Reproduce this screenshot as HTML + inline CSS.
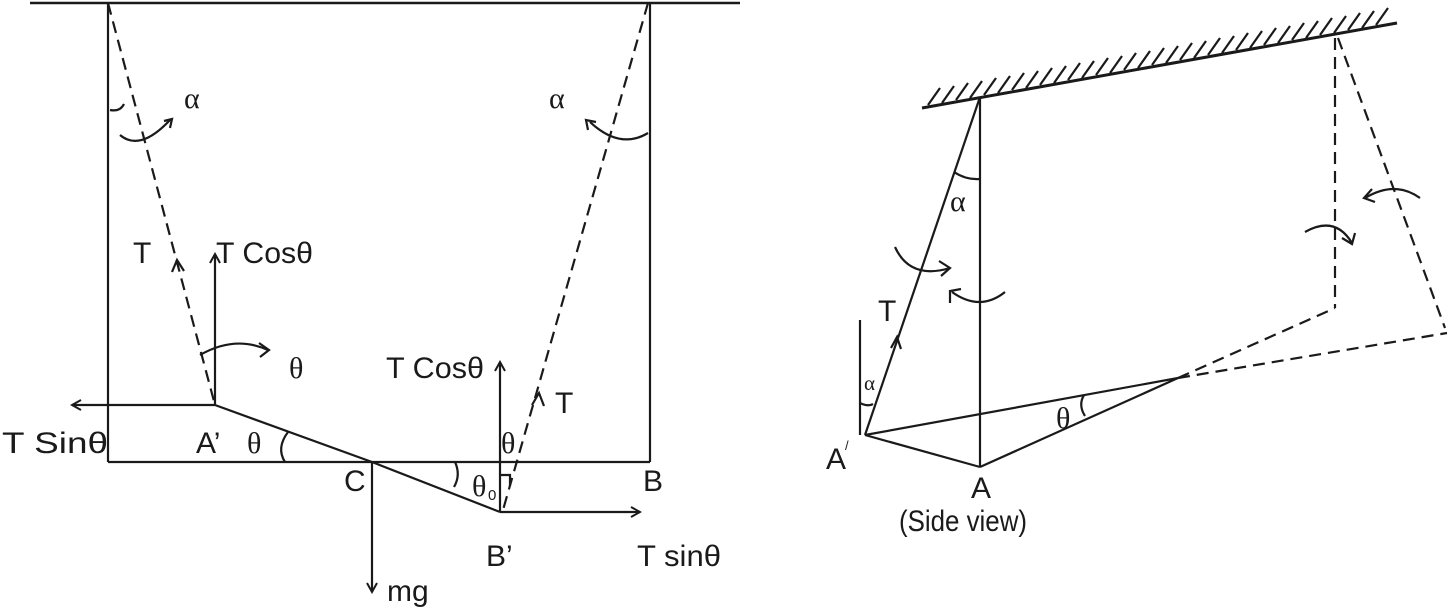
<!DOCTYPE html>
<html><head><style>html,body{margin:0;padding:0;background:#fff}svg{display:block}</style></head>
<body>
<svg width="1449" height="609" viewBox="0 0 1449 609" xmlns="http://www.w3.org/2000/svg" font-family="Liberation Sans, sans-serif" fill="none" stroke="#1a1a1a" stroke-width="2.2">
<defs>
<marker id="ah" markerWidth="12" markerHeight="12" refX="10" refY="6" orient="auto" markerUnits="userSpaceOnUse">
<path d="M1,1 L10,6 L1,11" fill="none" stroke="#1a1a1a" stroke-width="2"/>
</marker>
</defs>
<!-- LEFT DIAGRAM -->
<line x1="30" y1="3" x2="740" y2="3" stroke-width="2.5"/>
<line x1="108" y1="3" x2="108" y2="462"/>
<line x1="650" y1="3" x2="650" y2="462"/>
<line x1="108" y1="462" x2="650" y2="462"/>
<line x1="108" y1="3" x2="215" y2="405" stroke-dasharray="12,7"/>
<line x1="648" y1="3" x2="503" y2="510" stroke-dasharray="12,7"/>
<line x1="215" y1="405" x2="372" y2="462"/>
<line x1="372" y1="462" x2="500" y2="512"/>
<line x1="215" y1="405" x2="72" y2="405" marker-end="url(#ah)"/>
<line x1="215" y1="405" x2="215" y2="254" marker-end="url(#ah)"/>
<line x1="500" y1="512" x2="500" y2="362" marker-end="url(#ah)"/>
<line x1="500" y1="512" x2="640" y2="512" marker-end="url(#ah)"/>
<line x1="372" y1="462" x2="372" y2="592" marker-end="url(#ah)"/>
<path d="M172,272 L177,260 L184,271"/>
<path d="M532,405 L539,393 L544,406"/>
<path d="M110,110 Q120,112 124,104"/>
<path d="M120,135 Q140,152 170,120"/>
<path d="M164,121 L172,119 L170,128"/>
<path d="M648,133 Q620,150 590,122"/>
<path d="M588,130 L586,120 L596,122"/>
<path d="M200,355 Q235,335 268,350"/>
<path d="M259,343 L269,350 L260,357"/>
<path d="M288,432 Q276,448 285,462"/>
<path d="M455,462 Q461,475 454,487"/>
<path d="M500,475 L510,475 L510,486"/>
<g fill="#1a1a1a" stroke="none" font-size="30">
<text x="184" y="108" font-family="Liberation Serif, serif">α</text>
<text x="549" y="108" font-family="Liberation Serif, serif">α</text>
<text x="133" y="263">T</text>
<text x="216" y="263" textLength="97" lengthAdjust="spacingAndGlyphs">T Cosθ</text>
<text x="289" y="378" font-family="Liberation Serif, serif">θ</text>
<text x="386" y="378" textLength="98" lengthAdjust="spacingAndGlyphs">T Cosθ</text>
<text x="555" y="413">T</text>
<text x="2" y="453" textLength="106" lengthAdjust="spacingAndGlyphs">T Sinθ</text>
<text x="196" y="453">A’</text>
<text x="247" y="453" font-family="Liberation Serif, serif">θ</text>
<text x="501" y="453" font-family="Liberation Serif, serif">θ</text>
<text x="344" y="491">C</text>
<text x="472" y="496" font-family="Liberation Serif, serif">θ</text>
<text x="488" y="500" font-size="15">0</text>
<text x="643" y="491">B</text>
<text x="486" y="566">B’</text>
<text x="637" y="566" textLength="84" lengthAdjust="spacingAndGlyphs">T sinθ</text>
<text x="387" y="601">mg</text>
</g>
<!-- RIGHT DIAGRAM -->
<line x1="922" y1="108" x2="1397" y2="23" stroke-width="3"/>
<g stroke-width="2.2">
<path d="M928,105 l12,-17 M942,103 l12,-17 M956,100 l12,-17 M970,98 l12,-17 M984,95 l12,-17 M998,93 l12,-17 M1012,90 l12,-17 M1026,88 l12,-17 M1040,85 l12,-17 M1054,83 l12,-17 M1068,80 l12,-17 M1082,78 l12,-17 M1096,75 l12,-17 M1110,73 l12,-17 M1124,70 l12,-17 M1138,68 l12,-17 M1152,65 l12,-17 M1166,63 l12,-17 M1180,60 l12,-17 M1194,58 l12,-17 M1208,55 l12,-17 M1222,53 l12,-17 M1236,50 l12,-17 M1250,48 l12,-17 M1264,45 l12,-17 M1278,43 l12,-17 M1292,40 l12,-17 M1306,38 l12,-17 M1320,35 l12,-17 M1334,33 l12,-17 M1348,30 l12,-17 M1362,28 l12,-17 M1376,25 l12,-17"/>
</g>
<line x1="980" y1="97" x2="980" y2="467"/>
<line x1="865" y1="435" x2="980" y2="97"/>
<line x1="860" y1="320" x2="860" y2="435"/>
<line x1="865" y1="435" x2="980" y2="467"/>
<line x1="980" y1="467" x2="1178" y2="378"/>
<line x1="865" y1="435" x2="1178" y2="378"/>
<path d="M891,348 L897,337 L901,349"/>
<line x1="1178" y1="378" x2="1335" y2="308" stroke-dasharray="12,7"/>
<line x1="1178" y1="378" x2="1447" y2="333" stroke-dasharray="12,7"/>
<line x1="1335" y1="38" x2="1335" y2="308" stroke-dasharray="12,7"/>
<line x1="1338" y1="38" x2="1445" y2="328" stroke-dasharray="12,7"/>
<path d="M954,172 Q966,180 980,179"/>
<path d="M860,403 Q868,407 873,404"/>
<path d="M1084,395 Q1078,405 1085,416"/>
<path d="M895,247 Q910,280 950,268"/>
<path d="M939,261 L950,268 L941,276"/>
<path d="M1005,292 Q980,312 952,292"/>
<path d="M950,303 L950,291 L961,289"/>
<path d="M1305,232 Q1335,215 1352,243"/>
<path d="M1342,238 L1352,244 L1355,233"/>
<path d="M1420,198 Q1395,180 1365,198"/>
<path d="M1372,189 L1364,198 L1375,202"/>
<g fill="#1a1a1a" stroke="none" font-size="30">
<text x="950" y="211" font-family="Liberation Serif, serif">α</text>
<text x="878" y="321">T</text>
<text x="864" y="390" font-size="21" font-family="Liberation Serif, serif">α</text>
<text x="1056" y="428" font-family="Liberation Serif, serif">θ</text>
<text x="826" y="469">A</text>
<text x="845" y="450" font-size="13">/</text>
<text x="971" y="498">A</text>
<text x="899" y="531" textLength="128" lengthAdjust="spacingAndGlyphs">(Side view)</text>
</g>
</svg>
</body></html>
